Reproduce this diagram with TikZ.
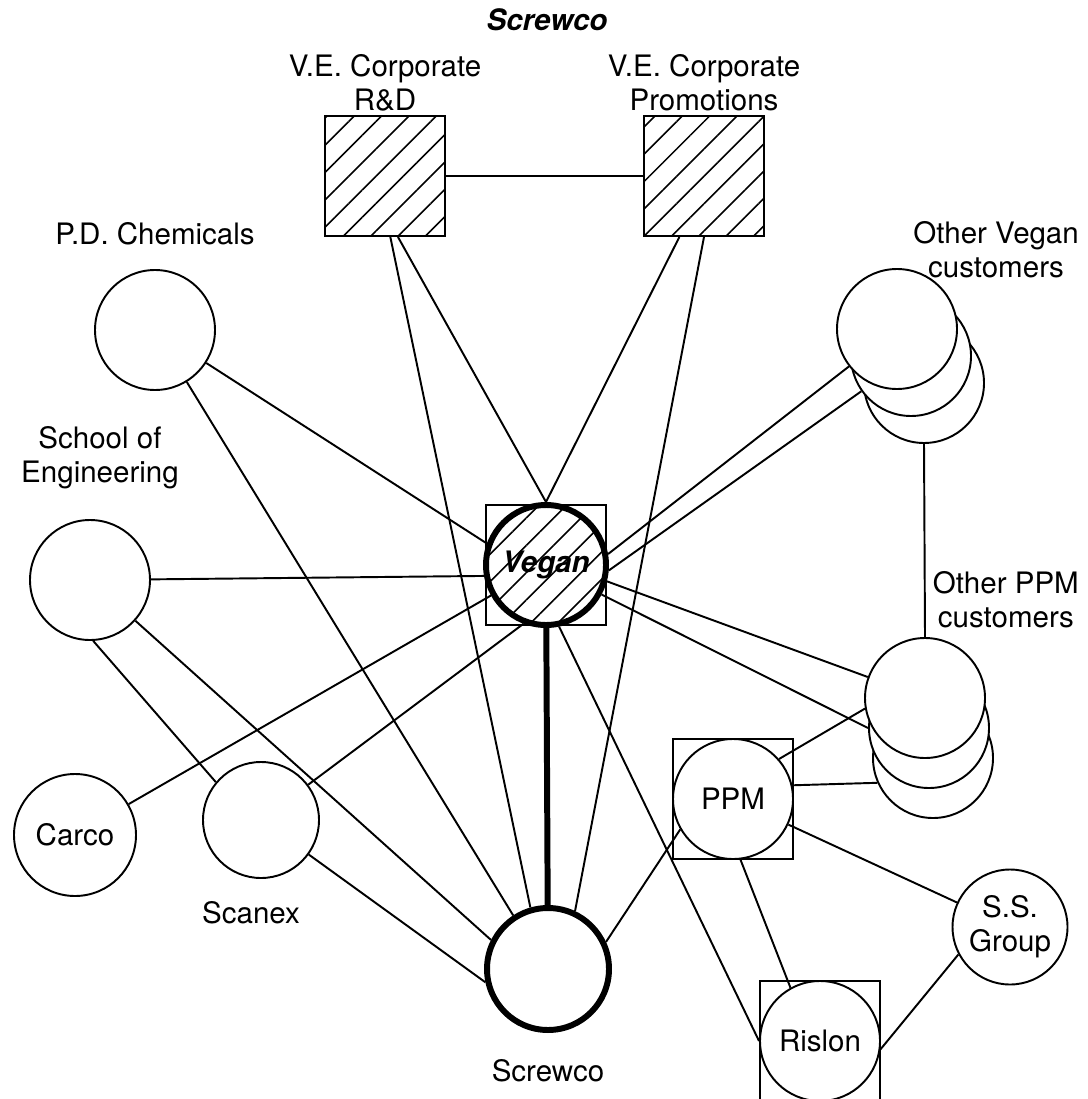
\documentclass[tikz,border=0pt]{standalone}
\usepackage{fontspec}
\setmainfont{TeX Gyre Heros}
\usetikzlibrary{positioning, calc, backgrounds, patterns.meta}

\begin{document}
\begin{tikzpicture}[
    x=0.1mm, y=-0.1mm,
    every node/.style={font=\fontsize{8.4}{9.7}\selectfont},
    org/.style={circle, draw, fill=white, minimum size=12mm, inner sep=0pt,
                line width=0.55pt},
    hatch/.style={pattern={Lines[angle=45, distance=5.5pt, line width=0.45pt]}},
    unit/.style={rectangle, draw, hatch, minimum size=12mm, inner sep=0pt,
                 line width=0.55pt},
    hub/.style={org, fill=none, hatch, line width=1.7pt, font=\fontsize{8.4}{9.7}\selectfont\bfseries\itshape},
    frame/.style={rectangle, draw, minimum size=12mm, inner sep=0pt, line width=0.55pt},
    link/.style={line width=0.55pt},
    tag/.style={align=center, inner sep=1pt},
]
    \useasboundingbox (0,0) rectangle (1087,1099);

    \node[font=\fontsize{8.4}{9.7}\selectfont\bfseries\itshape] (title) at (547,20) {Screwco};

    % corporate units
    \node[unit] (rd) at (385,176) {};
    \node[unit] (promo) at (704,176) {};
    \node[tag, above=0pt of rd] (rdlabel) {V.E. Corporate\\R\&D};
    \node[tag, above=0pt of promo] (promolabel) {V.E. Corporate\\Promotions};

    % the focal firm and its parent
    \node[frame] (veganbox) at (546,565) {};
    \node[hub] (vegan) at (veganbox) {Vegan};
    \node[org, line width=1.7pt, minimum size=12.2mm] (screwco) at (548,969) {};
    \node[tag, below=2.2mm of screwco] (screwcolabel) {Screwco};

    % partners on the left
    \node[org] (pdchem) at (155,330) {};
    \node[tag, above=2mm of pdchem] (pdlabel) {P.D. Chemicals};
    \node[org] (school) at (90,580) {};
    \node[tag, above=2.6mm of school, xshift=1mm] (schoollabel) {School of\\Engineering};
    \node[org, minimum size=12.2mm] (carco) at (75,835) {Carco};
    \node[org, minimum size=11.6mm] (scanex) at (261,820) {};
    \node[tag, below=1.8mm of scanex, xshift=-1mm] (scanexlabel) {Scanex};

    % customer groups, drawn back to front
    \coordinate (ovc) at (897,329);
    \coordinate (opc) at (925,698);
    \foreach \i/\dx/\dy in {3/27/54, 2/14/27, 1/0/0}
        \node[org] (ovc\i) at ($(ovc)+(\dx,\dy)$) {};
    \foreach \i/\dx/\dy in {3/8/60, 2/4/30, 1/0/0}
        \node[org] (opc\i) at ($(opc)+(\dx,\dy)$) {};
    \node[tag, anchor=east] (ovclabel) at (1083,250) {Other Vegan\\customers};
    \node[tag, anchor=east] (opclabel) at (1083,600) {Other PPM\\customers};

    % partners on the lower right
    \node[frame] (ppmbox) at (733,799) {};
    \node[org] (ppm) at (ppmbox) {PPM};
    \node[frame] (rislonbox) at (820,1041) {};
    \node[org] (rislon) at (rislonbox) {Rislon};
    \node[org, minimum size=11.5mm, align=center] (ssgroup) at (1010,927) {S.S.\\Group};

    \begin{scope}[on background layer]
        \draw[link] (rd) -- (promo);
        \draw[link] (rd.-78) -- (vegan.north);
        \draw[link] (rd.-85) -- (screwco.106);
        \draw[link] (promo.-112) -- (vegan.north);
        \draw[link] (promo.south) -- (screwco.65);
        \draw[link] (pdchem) -- (vegan.160);
        \draw[link] (pdchem) -- (screwco.123);
        \draw[link] (school) -- (vegan.190);
        \draw[link] (school) -- (screwco.153);
        \draw[link] (school.-87) -- (scanex.140);
        \draw[link] (carco) -- (vegan.209);
        \draw[link] (scanex) -- (vegan.249);
        \draw[link] (scanex) -- (screwco.192);
        \draw[link] (vegan.10) -- (ovc1);
        \draw[link] (vegan.-5) -- (ovc2);
        \draw[link] (vegan.-15) -- (opc1);
        \draw[link] (vegan.-28) -- (opc2.west);
        \draw[link] (vegan.282) -- (rislon.west);
        \draw[link] (ovc3.south) -- (opc1.north);
        \draw[link] (ppm.210) -- (screwco.25);
        \draw[link] (ppm.41) -- (opc1.190);
        \draw[link] (ppm.13) -- (opc3.204);
        \draw[link] (ppm) -- (ssgroup);
        \draw[link] (ppm.-83) -- (rislon.119);
        \draw[link] (rislon.-8) -- (ssgroup.208);
        \draw[line width=1.7pt] (vegan) -- (screwco);
    \end{scope}
\end{tikzpicture}
\end{document}
